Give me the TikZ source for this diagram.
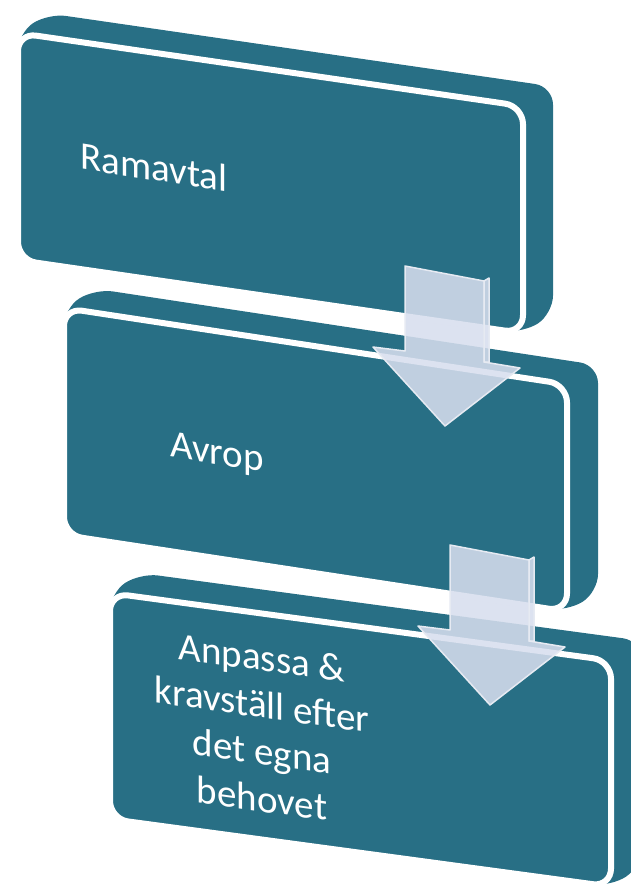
\documentclass[tikz,border=0pt]{standalone}
\usepackage{fontspec}
\setmainfont{Carlito}
\definecolor{slab}{RGB}{40,111,133}
\definecolor{pil}{RGB}{215,222,238}
\definecolor{pilkant}{RGB}{230,234,242}
\tikzset{
  body/.style={fill=slab, rounded corners=18pt},
  face/.style={fill=slab, draw=white, line width=6pt, rounded corners=18pt},
  steptext/.style={text=white, font=\fontsize{39}{47}\selectfont, align=center, inner sep=0pt},
  blockpil/.style={fill=pil, fill opacity=0.87, draw=pilkant, line width=1.5pt, line join=round},
}

\begin{document}
\begin{tikzpicture}[x=1pt,y=-1pt]
\useasboundingbox (0,0) rectangle (631,887);
\clip (0,0) rectangle (631,887);

\begin{scope}[shift={(18,33)},yslant=-0.145]
  \fill[body] (0,227) -- (0,0) -- (30,-24) -- (535,-24) -- (535,203) -- (505,227) -- cycle;
  \draw[face] (0,0) rectangle (505,227);
\end{scope}

\begin{scope}[shift={(64,308)},yslant=-0.152]
  \fill[body] (0,227) -- (0,0) -- (31,-24) -- (534,-24) -- (534,203) -- (503,227) -- cycle;
  \draw[face] (0,0) rectangle (503,227);
\end{scope}

\begin{scope}[shift={(110,593)},yslant=-0.135]
  \fill[body] (0,226) -- (0,0) -- (30,-24) -- (531,-24) -- (531,202) -- (501,226) -- cycle;
  \draw[face] (0,0) rectangle (501,226);
\end{scope}

\node[steptext, yslant=-0.16] (ramavtal) at (154,167) {Ramavtal};
\node[steptext, yslant=-0.16] (avrop) at (217,455) {Avrop};
\node[steptext, yslant=-0.14] (anpassa) at (262,728) {Anpassa \&\\kravställ efter\\det egna\\behovet};

\begin{scope}[shift={(405,266)}]
  \draw[blockpil] (79,15) -- (84,12) -- (84,96) -- (79,96) -- cycle;
  \draw[blockpil] (0,0) -- (79,15) -- (79,96) -- (115,102) -- (40,160) -- (-32,81) -- (0,85) -- cycle;
\end{scope}

\begin{scope}[shift={(450,545)}]
  \draw[blockpil] (79,15) -- (84,12) -- (84,96) -- (79,96) -- cycle;
  \draw[blockpil] (0,0) -- (79,15) -- (79,96) -- (115,102) -- (40,160) -- (-32,81) -- (0,85) -- cycle;
\end{scope}
\end{tikzpicture}
\end{document}
